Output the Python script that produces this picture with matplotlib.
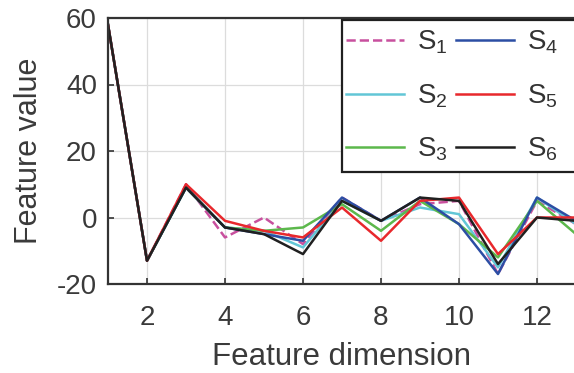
import matplotlib
matplotlib.use("Agg")
import matplotlib.pyplot as plt
from matplotlib.patches import Rectangle

plt.rcParams['font.family'] = ['Liberation Sans', 'DejaVu Sans']
plt.rcParams['mathtext.fontset'] = 'custom'
plt.rcParams['mathtext.rm'] = 'Liberation Sans'
plt.rcParams['mathtext.it'] = 'Liberation Sans'
plt.rcParams['mathtext.default'] = 'regular'
plt.rcParams['axes.unicode_minus'] = False

# Feature dimensions and per-sample feature values
dims = [1, 2, 3, 4, 5, 6, 7, 8, 9, 10, 11, 12, 13]
s1 = [58, -13, 10, -6, 0, -8, 6, -1, 4, 5, -17, 5, -2]
s2 = [58, -13, 9, -3, -4, -9, 5, -1, 3, 1, -15, 6, -2]
s3 = [58, -13, 9, -3, -4, -3, 4, -4, 5, -2, -12, 5, -5]
s4 = [58, -13, 9, -3, -5, -7, 6, -1, 6, -2, -17, 6, -1]
s5 = [58, -13, 10, -1, -4, -6, 3, -7, 5, 6, -11, 0, 0]
s6 = [58, -13, 9, -3, -5, -11, 5, -1, 6, 5, -14, 0, -1]
labels = ['S$_1$', 'S$_2$', 'S$_3$', 'S$_4$', 'S$_5$', 'S$_6$']
xticks = [2, 4, 6, 8, 10, 12]
yticks = [-20, 0, 20, 40, 60]

series = [s1, s2, s3, s4, s5, s6]
colors = ['#c8509e', '#62c6d6', '#5cb84c', '#2c4ea4', '#e8282c', '#202020']
styles = ['--', '-', '-', '-', '-', '-']

W, H = 574, 373
fig = plt.figure(figsize=(W / 100, H / 100), dpi=100)
left, right, top, bottom = 108, 574, 18, 284
ax = fig.add_axes([left / W, (H - bottom) / H, (right - left) / W, (bottom - top) / H])

handles = []
for vals, c, ls, lab in zip(series, colors, styles, labels):
    h, = ax.plot(dims, vals, color=c, linestyle=ls, linewidth=1.8, label=lab)
    handles.append(h)

ax.set_xlim(1, 1 + (right - left) / 39.0)
ax.set_ylim(-20, 60)
ax.set_xticks(xticks)
ax.set_yticks(yticks)
ax.grid(True, color='#dcdcdc', linewidth=0.9)
ax.set_axisbelow(True)
ax.tick_params(axis='x', pad=15)
ax.tick_params(axis='y', pad=8)
ax.tick_params(direction='in', length=4, width=1.2, labelsize=20,
               colors='#333333', labelcolor='#3a3a3a')
for side in ['left', 'bottom', 'top']:
    ax.spines[side].set_linewidth(1.6)
    ax.spines[side].set_color('#333333')
ax.spines['right'].set_visible(False)

ax.set_xlabel('Feature dimension', fontsize=22.5, color='#3a3a3a', labelpad=8)
ax.set_ylabel('Feature value', fontsize=22, color='#3a3a3a', labelpad=9)

# legend entries, with a box that runs on past the right edge
leg = fig.legend(handles=handles, ncol=2, loc='upper left',
                 bbox_to_anchor=(346 / W, (H - 29) / H), borderaxespad=0,
                 fontsize=20, frameon=False,
                 handlelength=2.1, handletextpad=0.45, columnspacing=0.3,
                 labelspacing=0.93, borderpad=0.0)
for t in leg.get_texts():
    t.set_color('#333333')

frame = Rectangle((342 / W, (H - 172) / H), (640 - 342) / W, (172 - 20) / H,
                  transform=fig.transFigure, fill=True, facecolor='white',
                  edgecolor='#202020', linewidth=1.6, zorder=4)
fig.add_artist(frame)
leg.set_zorder(5)

fig.savefig('out.png', dpi=100)
